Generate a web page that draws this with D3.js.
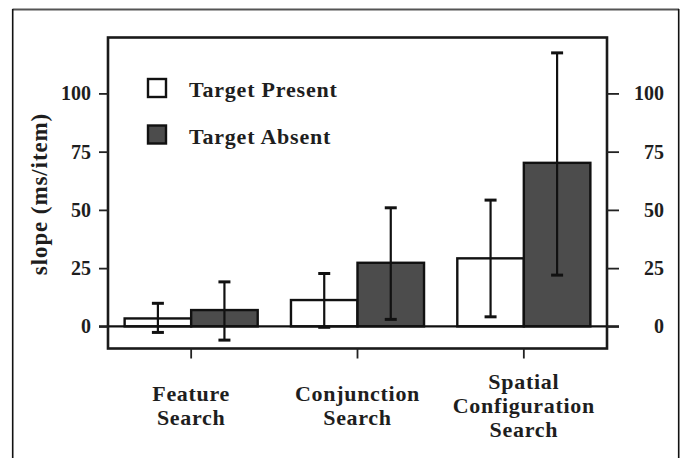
<!DOCTYPE html>
<html>
<head>
<meta charset="utf-8">
<script src="https://cdn.jsdelivr.net/npm/d3@7"></script>
<style>
  html, body { margin: 0; padding: 0; background: #fff; }
  svg { display: block; }
  text { font-family: "Liberation Serif", "Times New Roman", serif; font-weight: bold; fill: #1e1e1e; }
</style>
</head>
<body>
<svg id="chart" width="681" height="458"></svg>
<script>
// ---- data ----
const categories = ["Feature Search", "Conjunction Search", "Spatial Configuration Search"];
const categoryLines = [["Feature", "Search"], ["Conjunction", "Search"], ["Spatial", "Configuration", "Search"]];
const seriesNames = ["Target Present", "Target Absent"];
const presentValues = [3.4, 11.3, 29.2];
const presentUpper = [9.9, 22.7, 54.2];
const presentLower = [-2.6, -0.4, 4.1];
const absentValues = [7.0, 27.3, 70.2];
const absentUpper = [19.1, 50.9, 117.4];
const absentLower = [-5.9, 3.0, 22.0];
const yTicks = [0, 25, 50, 75, 100];
const yLabel = "slope (ms/item)";

// ---- layout ----
const svg = d3.select("#chart");
const pLeft = 108, pRight = 607, pTop = 37.5, pBottom = 348.5;
const fills = { "Target Present": "#ffffff", "Target Absent": "#4c4c4c" };

const x0 = d3.scaleBand().domain(categories).range([pLeft, pRight]).paddingInner(0.2).paddingOuter(0.1);
const x1 = d3.scaleBand().domain(seriesNames).range([0, x0.bandwidth()]);
const y = d3.scaleLinear().domain([-9.5, 124]).range([pBottom, pTop]);

const rows = [];
categories.forEach((c, i) => {
  rows.push({ cat: c, s: "Target Present", v: presentValues[i], hi: presentUpper[i], lo: presentLower[i] });
  rows.push({ cat: c, s: "Target Absent", v: absentValues[i], hi: absentUpper[i], lo: absentLower[i] });
});

// outer frame
svg.append("line").attr("x1", 12.5).attr("x2", 679).attr("y1", 9.5).attr("y2", 9.5)
  .attr("stroke", "#555").attr("stroke-width", 2);
svg.append("line").attr("x1", 12.7).attr("x2", 12.7).attr("y1", 9).attr("y2", 458)
  .attr("stroke", "#111").attr("stroke-width", 1.6);
svg.append("line").attr("x1", 678.7).attr("x2", 678.7).attr("y1", 9).attr("y2", 458)
  .attr("stroke", "#111").attr("stroke-width", 1.6);

// bars
svg.append("g").selectAll("rect").data(rows).join("rect")
  .attr("x", d => x0(d.cat) + x1(d.s))
  .attr("width", x1.bandwidth())
  .attr("y", d => y(d.v))
  .attr("height", d => y(0) - y(d.v))
  .attr("fill", d => fills[d.s])
  .attr("stroke", "#111").attr("stroke-width", 2.4);

// error bars
const eb = svg.append("g").attr("stroke", "#111");
const cx = d => x0(d.cat) + x1(d.s) + x1.bandwidth() / 2;
eb.selectAll("line.v").data(rows).join("line").attr("class", "v")
  .attr("x1", cx).attr("x2", cx).attr("y1", d => y(d.hi)).attr("y2", d => y(d.lo))
  .attr("stroke-width", 2.2);
eb.selectAll("line.hi").data(rows).join("line").attr("class", "hi")
  .attr("x1", d => cx(d) - 6).attr("x2", d => cx(d) + 6).attr("y1", d => y(d.hi)).attr("y2", d => y(d.hi))
  .attr("stroke-width", 3);
eb.selectAll("line.lo").data(rows).join("line").attr("class", "lo")
  .attr("x1", d => cx(d) - 6).attr("x2", d => cx(d) + 6).attr("y1", d => y(d.lo)).attr("y2", d => y(d.lo))
  .attr("stroke-width", 3);

// zero line
svg.append("line").attr("x1", pLeft - 9).attr("x2", pRight + 12).attr("y1", y(0)).attr("y2", y(0))
  .attr("stroke", "#111").attr("stroke-width", 2.4);

// plot box
svg.append("rect").attr("x", pLeft).attr("y", pTop).attr("width", pRight - pLeft).attr("height", pBottom - pTop)
  .attr("fill", "none").attr("stroke", "#1a1a1a").attr("stroke-width", 2.6);

// left axis
const gl = svg.append("g").attr("transform", `translate(${pLeft},0)`)
  .call(d3.axisLeft(y).tickValues(yTicks).tickSize(9).tickPadding(8));
gl.select(".domain").remove();
gl.selectAll(".tick line").attr("stroke", "#222").attr("stroke-width", 1.8);
gl.selectAll(".tick text").style("font-size", "20px").attr("fill", "#1e1e1e");

// right axis
const gr = svg.append("g").attr("transform", `translate(${pRight},0)`)
  .call(d3.axisRight(y).tickValues(yTicks).tickSize(12));
gr.select(".domain").remove();
gr.selectAll(".tick line").attr("stroke", "#222").attr("stroke-width", 1.8);
gr.selectAll(".tick text").style("font-size", "20px").attr("fill", "#1e1e1e")
  .attr("text-anchor", "end").attr("x", 57);

// bottom axis ticks
const gb = svg.append("g").attr("transform", `translate(0,${pBottom})`)
  .call(d3.axisBottom(x0).tickSize(10).tickFormat(""));
gb.select(".domain").remove();
gb.selectAll(".tick line").attr("stroke", "#222").attr("stroke-width", 1.8);

// category labels
categories.forEach((c, i) => {
  const lines = categoryLines[i];
  const first = 401 - (lines.length - 2) * 12;
  const t = svg.append("text").attr("text-anchor", "middle")
    .style("font-size", "22px").style("letter-spacing", "0.7px");
  lines.forEach((ln, j) => {
    t.append("tspan").attr("x", x0(c) + x0.bandwidth() / 2).attr("y", first + j * 24).text(ln);
  });
});

// y label
svg.append("text").attr("transform", "translate(47,194) rotate(-90)")
  .attr("text-anchor", "middle").style("font-size", "23px").style("letter-spacing", "0.9px")
  .text(yLabel);

// legend
const lg = svg.append("g");
seriesNames.forEach((s, i) => {
  const yy = 79 + i * 46.5;
  lg.append("rect").attr("x", 148).attr("y", yy).attr("width", 18).attr("height", 18)
    .attr("fill", fills[s]).attr("stroke", "#111").attr("stroke-width", 2.4);
  lg.append("text").attr("x", 189).attr("y", yy + 18).style("font-size", "22px")
    .style("letter-spacing", "0.8px").text(s);
});
</script>
</body>
</html>
